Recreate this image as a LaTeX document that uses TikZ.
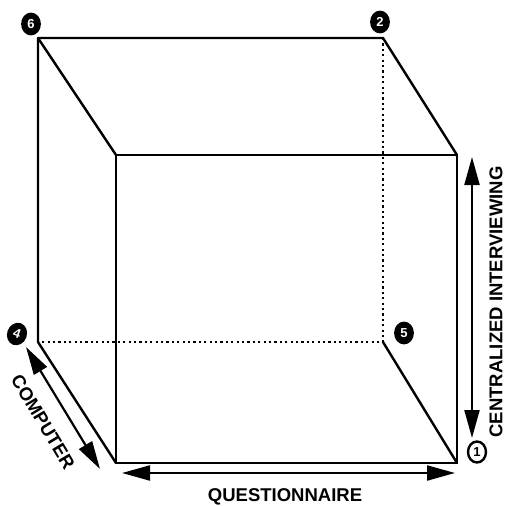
\documentclass[tikz,border=0pt]{standalone}
\usepackage{fontspec}
\setmainfont{Liberation Sans}
\usetikzlibrary{arrows.meta,shapes.geometric}
\begin{document}
\begin{tikzpicture}[x=1pt,y=-1pt,
  edge/.style={line width=2.4pt, line join=round, line cap=round},
  hidden/.style={line width=2.2pt, dash pattern=on 2.2pt off 3.2pt},
  dbl/.style={line width=2.2pt, {Triangle[length=28pt,width=15pt]}-{Triangle[length=28pt,width=15pt]}},
  lbl/.style={font=\fontsize{18.5}{20}\selectfont\bfseries, inner sep=0pt},
  cornerfill/.style={ellipse, draw, line width=1.8pt, fill=black, text=white, minimum width=18pt, minimum height=21pt, inner sep=0pt, font=\fontsize{13}{13}\selectfont\bfseries},
  corneropen/.style={ellipse, draw, line width=2.4pt, minimum width=18pt, minimum height=21pt, inner sep=0pt, font=\fontsize{13}{13}\selectfont\bfseries}]
\useasboundingbox (0,0) rectangle (507,506);
% back face
\coordinate (btl) at (38,38);
\coordinate (btr) at (383,38);
\coordinate (bbr) at (383,342);
\coordinate (bbl) at (38,342);
% front face
\coordinate (ftl) at (116,155);
\coordinate (ftr) at (457,155);
\coordinate (fbr) at (457,463);
\coordinate (fbl) at (116,463);
% hidden edges
\draw[hidden] (btr) -- (bbr) -- (bbl);
% visible edges
\draw[edge] (bbl) -- (btl) -- (btr) -- (ftr);
\draw[edge] (btl) -- (ftl);
\draw[edge] (ftl) -- (ftr) -- (fbr) -- (fbl) -- cycle;
\draw[edge] (bbl) -- (fbl);
\draw[edge] (bbr) -- (fbr);
% axes arrows
\coordinate (va) at (472,157);
\coordinate (vb) at (472,438);
\draw[dbl] (va) -- (vb);
\coordinate (ha) at (122,473);
\coordinate (hb) at (455,473);
\draw[dbl] (ha) -- (hb);
\coordinate (ca) at (26,347);
\coordinate (cb) at (100,469);
\draw[dbl] (ca) -- (cb);
% labels
\node[lbl, rotate=90] (lci) at (496,302) {CENTRALIZED INTERVIEWING};
\node[lbl] (lq) at (285,497) {QUESTIONNAIRE};
\node[lbl, rotate=-59] (lc) at (43,422) {COMPUTER};
% corner numbers
\node[cornerfill] (n6) at (31,24) {6};
\node[cornerfill] (n2) at (380,22) {2};
\node[cornerfill, rotate=-20] (n4) at (17,334) {4};
\node[cornerfill] (n5) at (404,333) {5};
\node[corneropen] (n1) at (477,452) {1};
\end{tikzpicture}
\end{document}
